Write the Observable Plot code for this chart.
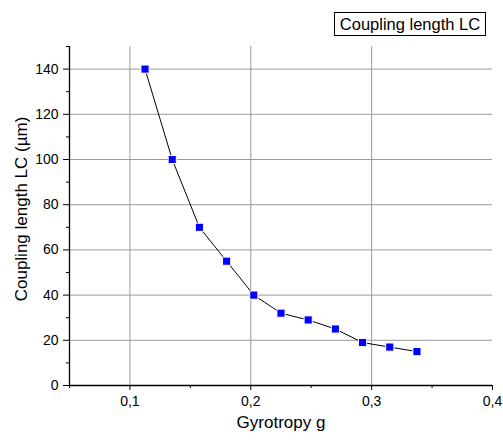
<!DOCTYPE html>
<html><head><meta charset="utf-8">
<script src="https://cdn.jsdelivr.net/npm/d3@7"></script>
<script src="https://cdn.jsdelivr.net/npm/@observablehq/plot@0.6"></script>
<style>
body{margin:0;background:#fff;font-family:"Liberation Sans",Arial,sans-serif;}
#wrap{position:relative;width:503px;height:440px;overflow:hidden;}
#legend{position:absolute;left:334px;top:12px;width:150px;height:22px;border:1px solid #000;font-size:16.5px;line-height:22px;text-align:center;background:#fff;color:#000;white-space:nowrap;}
</style></head>
<body><div id="wrap"><div id="legend">Coupling length LC</div></div>
<script>
const gyrotropy = [0.1125, 0.135, 0.1575, 0.18, 0.2025, 0.225, 0.2475, 0.27, 0.2925, 0.315, 0.3375];
const couplingLength = [140, 100, 70, 55, 40, 32, 29, 25, 19, 17, 15];
const xTicks = [0.1, 0.2, 0.3, 0.4];
const xMinor = [0.05, 0.15, 0.25, 0.35];
const yTicks = [0, 20, 40, 60, 80, 100, 120, 140];
const yMinor = [10, 30, 50, 70, 90, 110, 130, 150];
const xGrid = [0.1, 0.2, 0.3];
const yGrid = [20, 40, 60, 80, 100, 120, 140];

const data = gyrotropy.map((g, i) => ({g, lc: couplingLength[i]}));
const fmt = d => d.toFixed(1).replace(".", ",");

const chart = Plot.plot({
  width: 503, height: 440,
  marginLeft: 69, marginRight: 11, marginTop: 46, marginBottom: 55,
  style: {fontFamily: '"Liberation Sans", Arial, sans-serif', fontSize: "14px", color: "#000", background: "transparent", overflow: "visible"},
  x: {domain: [0.05, 0.4], label: null},
  y: {domain: [0, 150], label: null},
  marks: [
    Plot.ruleX(xGrid, {stroke: "#999", strokeWidth: 1}),
    Plot.ruleY(yGrid, {stroke: "#999", strokeWidth: 1}),
    Plot.axisX({ticks: xTicks, tickFormat: fmt, tickSize: 5, tickPadding: 6, fontSize: 14, label: null}),
    Plot.axisX({ticks: xMinor, tickFormat: () => "", tickSize: 3, label: null}),
    Plot.axisY({ticks: yTicks, tickSize: 6, tickPadding: 5, fontSize: 14, label: null}),
    Plot.axisY({ticks: yMinor, tickFormat: () => "", tickSize: 3, label: null}),
    Plot.ruleX([0.05], {stroke: "#000", strokeWidth: 1.3}),
    Plot.ruleY([0], {stroke: "#000", strokeWidth: 1.3}),
    Plot.line(data, {x: "g", y: "lc", stroke: "#000", strokeWidth: 1}),
    Plot.dot(data, {x: "g", y: "lc", symbol: "square", r: 4.6, fill: "#0000ff", stroke: "#fff", strokeWidth: 1}),
    Plot.text(["Gyrotropy g"], {frameAnchor: "bottom", dy: 42, fontSize: 17}),
    Plot.text(["Coupling length LC (µm)"], {frameAnchor: "left", textAnchor: "middle", dx: -48, dy: -7, rotate: -90, fontSize: 17})
  ]
});
document.getElementById("wrap").prepend(chart);
</script>
</body></html>
